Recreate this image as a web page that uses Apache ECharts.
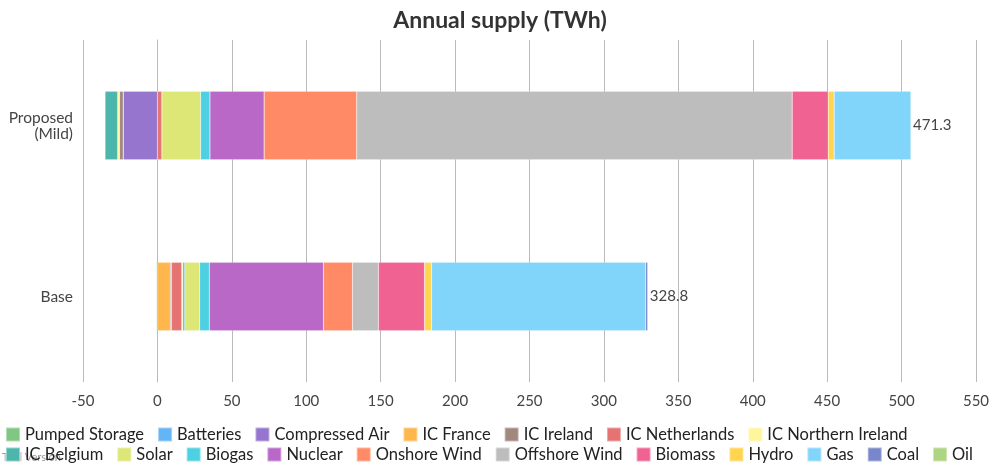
<!DOCTYPE html><html><head><meta charset="utf-8"><script src="https://cdn.jsdelivr.net/npm/echarts@6/dist/echarts.min.js"></script></head><body style="margin:0"><div id="c" style="width:1000px;height:465px"></div><script>
const categories=['Base','Proposed\n(Mild)'];
const seriesNames=['Pumped Storage','Batteries','Compressed Air','IC France','IC Ireland','IC Netherlands','IC Northern Ireland','IC Belgium','Solar','Biogas','Nuclear','Onshore Wind','Offshore Wind','Biomass','Hydro','Gas','Coal','Oil'];
const colors=['#81c784','#64b5f6','#9575cd','#ffb74d','#a1887f','#e57373','#fff59d','#4db6ac','#dce775','#4dd0e1','#ba68c8','#ff8a65','#bdbdbd','#f06292','#ffd54f','#81d4fa','#7986cb','#aed581'];
const baseValues=[-0.7,0,0,8.7,0.7,7,0.7,1.3,10,6.5,76.7,19.5,17.4,31,4.7,143.8,1.5,0];
const proposedValues=[0,0,-23,0,-2.5,3,-1.2,-8.5,26,6.3,36.4,62.2,292.6,24.2,4,51.7,0,0];
const totals=[328.8,471.3];
const F='Lato';
const series=seriesNames.map((n,i)=>({name:n,type:'bar',stack:'s',barWidth:'40%',color:colors[i],data:[baseValues[i],proposedValues[i]],itemStyle:{borderColor:'rgba(255,255,255,0.4)',borderWidth:0.5}}));
series.push({name:'Total',type:'bar',stack:'s',data:[0,0],label:{show:true,position:'right',distance:2,fontFamily:F,fontSize:15,color:'#444',formatter:p=>totals[p.dataIndex].toFixed(1)},itemStyle:{color:'transparent'}});
const ch=echarts.init(document.getElementById('c'));
ch.setOption({animation:false,textStyle:{fontFamily:F},
title:{text:'Annual supply (TWh)',left:'center',top:4,textStyle:{fontFamily:F,fontSize:23,fontWeight:'bold',color:'#333'}},
grid:{left:83,right:24,top:40,bottom:83},
xAxis:{type:'value',min:-50,max:550,interval:50,axisLine:{show:false},axisTick:{show:false},splitLine:{lineStyle:{color:'#bbb'}},axisLabel:{fontFamily:F,fontSize:15,color:'#444',margin:12}},
yAxis:{type:'category',data:categories,axisTick:{show:false},axisLine:{lineStyle:{color:'#bbb'}},axisLabel:{fontFamily:F,fontSize:15.5,color:'#444',margin:10}},
legend:{data:seriesNames,bottom:2,left:0,right:0,padding:[0,5],itemWidth:14,itemHeight:14,itemGap:3,icon:'rect',textStyle:{fontFamily:F,fontSize:16.5,color:'#222',lineHeight:16,padding:[0,10,0,0]}},
graphic:[{type:'text',left:2,top:452,style:{text:'Trial Version',fill:'#999',font:'11px Lato'}}],
series});
</script></body></html>
